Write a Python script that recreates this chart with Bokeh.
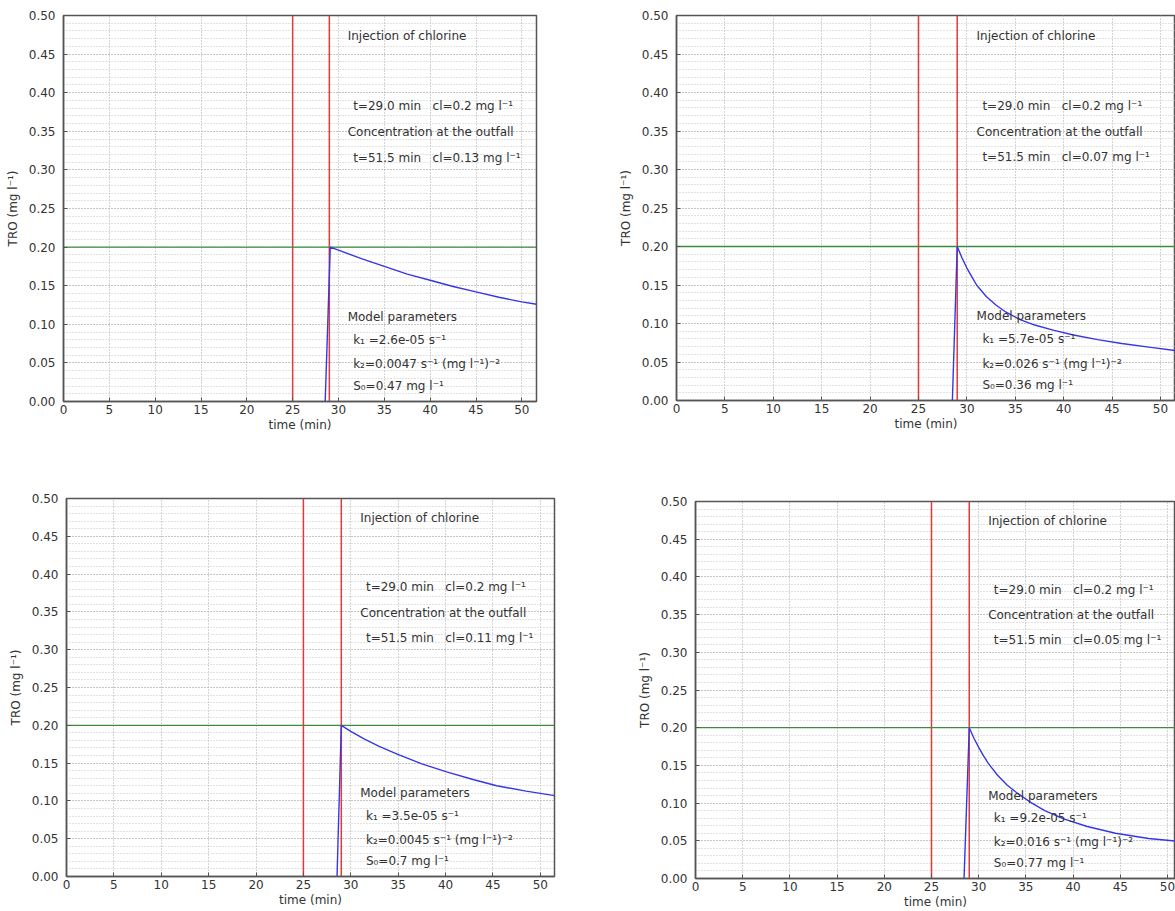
from bokeh.plotting import figure
from bokeh.layouts import column, row
from bokeh.models import Range1d, Span, SingleIntervalTicker, NumeralTickFormatter, Spacer
from bokeh.core.properties import value
from bokeh.embed import file_html
from bokeh.resources import INLINE

# ---------------- data ----------------
INJ_START = 25.0      # start of injection window (min)
INJ_END = 29.0        # injection of chlorine (min)
TARGET = 0.2          # target concentration (mg/l)

P1_T = [28.55, 29.1, 30.0, 32.5, 35.0, 37.5, 40.0, 42.5, 45.0, 47.5, 50.0, 51.6]
P1_C = [0.0, 0.200, 0.196, 0.185, 0.175, 0.165, 0.157, 0.149, 0.142, 0.135, 0.129, 0.126]

P2_T = [28.5, 29.0, 29.5, 30.0, 30.5, 31.0, 32.0, 33.0, 34.0, 35.5, 37.0, 39.0,
        41.0, 43.5, 46.0, 49.0, 51.5]
P2_C = [0.0, 0.200, 0.185, 0.172, 0.161, 0.150, 0.135, 0.124, 0.115, 0.105, 0.098,
        0.091, 0.085, 0.079, 0.074, 0.069, 0.065]

P3_T = [28.55, 29.0, 30.0, 31.4, 33.0, 34.9, 37.5, 40.2, 43.0, 45.4, 48.5, 51.5]
P3_C = [0.0, 0.200, 0.192, 0.182, 0.172, 0.162, 0.149, 0.138, 0.128, 0.120, 0.113, 0.107]

P4_T = [28.45, 29.0, 29.5, 30.0, 30.5, 31.0, 32.0, 33.0, 34.0, 35.5, 37.0, 39.0,
        41.5, 44.5, 48.0, 51.5]
P4_C = [0.0, 0.200, 0.186, 0.174, 0.163, 0.153, 0.137, 0.124, 0.114, 0.101, 0.090,
        0.079, 0.069, 0.060, 0.053, 0.049]

SP = "\u00a0\u00a0\u00a0"
P1_LABELS = ["Injection of chlorine", "t=29.0 min" + SP + "cl=0.2 mg l⁻¹",
             "Concentration at the outfall", "t=51.5 min" + SP + "cl=0.13 mg l⁻¹",
             "Model parameters", "k₁ =2.6e-05 s⁻¹",
             "k₂=0.0047 s⁻¹ (mg l⁻¹)⁻²", "S₀=0.47 mg l⁻¹"]
P2_LABELS = ["Injection of chlorine", "t=29.0 min" + SP + "cl=0.2 mg l⁻¹",
             "Concentration at the outfall", "t=51.5 min" + SP + "cl=0.07 mg l⁻¹",
             "Model parameters", "k₁ =5.7e-05 s⁻¹",
             "k₂=0.026 s⁻¹ (mg l⁻¹)⁻²", "S₀=0.36 mg l⁻¹"]
P3_LABELS = ["Injection of chlorine", "t=29.0 min" + SP + "cl=0.2 mg l⁻¹",
             "Concentration at the outfall", "t=51.5 min" + SP + "cl=0.11 mg l⁻¹",
             "Model parameters", "k₁ =3.5e-05 s⁻¹",
             "k₂=0.0045 s⁻¹ (mg l⁻¹)⁻²", "S₀=0.7 mg l⁻¹"]
P4_LABELS = ["Injection of chlorine", "t=29.0 min" + SP + "cl=0.2 mg l⁻¹",
             "Concentration at the outfall", "t=51.5 min" + SP + "cl=0.05 mg l⁻¹",
             "Model parameters", "k₁ =9.2e-05 s⁻¹",
             "k₂=0.016 s⁻¹ (mg l⁻¹)⁻²", "S₀=0.77 mg l⁻¹"]

# annotation placement (data coordinates)
LABEL_X = [31.0, 31.6, 31.0, 31.6, 31.0, 31.6, 31.6, 31.6]
LABEL_Y = [0.474, 0.383, 0.349, 0.316, 0.110, 0.080, 0.048, 0.020]

FONT = "DejaVu Sans"
AX = "#555555"
TXT = "#333333"


def make_panel(t, c, labels, x_end, fw, fh, bl, bt, br, bb):
    p = figure(frame_width=fw, frame_height=fh,
               x_range=Range1d(0, x_end), y_range=Range1d(0, 0.5),
               output_backend="svg", toolbar_location=None,
               min_border_left=bl, min_border_top=bt,
               min_border_right=br, min_border_bottom=bb)
    p.background_fill_color = "white"
    p.border_fill_color = "white"
    p.outline_line_color = AX
    p.outline_line_width = 1.5

    p.xaxis.ticker = SingleIntervalTicker(interval=5, num_minor_ticks=0)
    p.yaxis.ticker = SingleIntervalTicker(interval=0.05, num_minor_ticks=5)
    p.yaxis.formatter = NumeralTickFormatter(format="0.00")
    p.xaxis.formatter = NumeralTickFormatter(format="0")

    for ax in (p.xaxis, p.yaxis):
        ax.axis_line_color = AX
        ax.axis_line_width = 1.5
        ax.major_tick_in = 4
        ax.major_tick_out = 0
        ax.major_tick_line_color = AX
        ax.minor_tick_line_color = None
        ax.major_label_text_font = FONT
        ax.major_label_text_font_size = "12px"
        ax.major_label_text_color = TXT
        ax.axis_label_text_font = FONT
        ax.axis_label_text_font_size = "12px"
        ax.axis_label_text_font_style = "normal"
        ax.axis_label_text_color = TXT
    p.xaxis.major_label_standoff = 3
    p.xaxis.axis_label_standoff = 1
    p.yaxis.major_label_standoff = 4
    p.yaxis.axis_label_standoff = 6
    p.xaxis.axis_label = "time (min)"
    p.yaxis.axis_label = "TRO (mg l⁻¹)"

    p.xgrid.grid_line_color = "#a8a8a8"
    p.xgrid.grid_line_dash = "1 2"
    p.ygrid.grid_line_color = "#a8a8a8"
    p.ygrid.grid_line_dash = "1 2"
    p.ygrid.minor_grid_line_color = "#c4c4c4"
    p.ygrid.minor_grid_line_dash = "1 2"

    for loc in (INJ_START, INJ_END):
        p.add_layout(Span(location=loc, dimension="height", line_color="#e03a3a",
                          line_width=1.5, level="underlay"))
    p.add_layout(Span(location=TARGET, dimension="width", line_color="#3c8c3c",
                      line_width=1.3, level="underlay"))

    p.line(t, c, line_color="#3636e6", line_width=1.4)

    p.text(x=LABEL_X, y=LABEL_Y, text=labels, text_font=value(FONT),
           text_font_size="12px", text_baseline="middle", text_align="left",
           text_color=TXT)
    return p


# row 1 (height 458)
p1 = make_panel(P1_T, P1_C, P1_LABELS, 51.6, 473, 386, 63, 15, 20, 57)
p2 = make_panel(P2_T, P2_C, P2_LABELS, 51.55, 499, 385, 120, 15, 0, 58)
# row 2
p3 = make_panel(P3_T, P3_C, P3_LABELS, 51.5, 488, 378, 66, 40, 20, 33)
p4 = make_panel(P4_T, P4_C, P4_LABELS, 50.85, 480, 377, 121, 40, 0, 31)

layout = column(row(p1, p2), row(p3, column(Spacer(width=601, height=3), p4)))

with open("out.html", "w") as f:
    f.write(file_html(layout, INLINE))
